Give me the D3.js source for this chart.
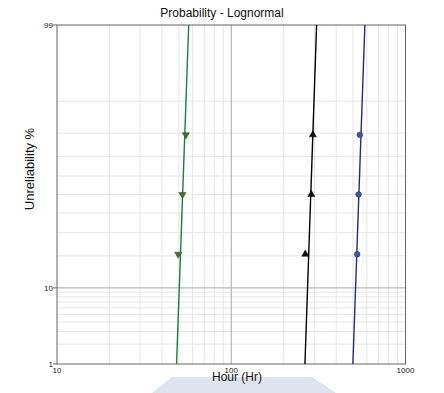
<!DOCTYPE html>
<html>
<head>
<meta charset="utf-8">
<script src="https://cdn.jsdelivr.net/npm/d3@7"></script>
<style>
  body { margin: 0; background: #fff; }
  text { font-family: "Liberation Sans", Arial, sans-serif; }
</style>
</head>
<body>
<svg id="chart"></svg>
<script>
const title = "Probability - Lognormal";
const xLabel = "Hour (Hr)";
const yLabel = "Unreliability %";

const xTicks = [10, 100, 1000];
const yTicks = [1, 10, 99];
const xMinor = [20, 30, 40, 50, 60, 70, 80, 90, 200, 300, 400, 500, 600, 700, 800, 900];
const yMinor = [2, 3, 4, 5, 6, 7, 8, 9, 20, 30, 40, 50, 60, 70, 80, 90];

// median ranks (%)
const ranks = [20.63, 50, 79.37];
const greenHours = [49.6, 52.5, 54.9];
const blackHours = [266, 288, 294];
const blueHours = [528, 538, 547];

// lognormal fits: median hours, sigma (log10)
const greenFit = { median: 52.6, sigma: 0.0150 };
const blackFit = { median: 286, sigma: 0.0144 };
const blueFit = { median: 540, sigma: 0.0148 };

const width = 444, height = 393;
const pLeft = 57, pRight = 405.5, pTop = 25, pBottom = 364;

// inverse normal cdf (Acklam)
function probit(p) {
    const a = [-3.969683028665376e+01, 2.209460984245205e+02, -2.759285104469687e+02, 1.383577518672690e+02, -3.066479806614716e+01, 2.506628277459239e+00];
    const b = [-5.447609879822406e+01, 1.615858368580409e+02, -1.556989798598866e+02, 6.680131188771972e+01, -1.328068155288572e+01];
    const c = [-7.784894002430293e-03, -3.223964580411365e-01, -2.400758277161838e+00, -2.549732539343734e+00, 4.374664141464968e+00, 2.938163982698783e+00];
    const d = [7.784695709041462e-03, 3.224671290700398e-01, 2.445134137142996e+00, 3.754408661907416e+00];
    const pl = 0.02425;
    let q, r;
    if (p < pl) {
        q = Math.sqrt(-2 * Math.log(p));
        return (((((c[0]*q+c[1])*q+c[2])*q+c[3])*q+c[4])*q+c[5]) / ((((d[0]*q+d[1])*q+d[2])*q+d[3])*q+1);
    } else if (p <= 1 - pl) {
        q = p - 0.5; r = q * q;
        return (((((a[0]*r+a[1])*r+a[2])*r+a[3])*r+a[4])*r+a[5])*q / (((((b[0]*r+b[1])*r+b[2])*r+b[3])*r+b[4])*r+1);
    } else {
        q = Math.sqrt(-2 * Math.log(1 - p));
        return -(((((c[0]*q+c[1])*q+c[2])*q+c[3])*q+c[4])*q+c[5]) / ((((d[0]*q+d[1])*q+d[2])*q+d[3])*q+1);
    }
}

const svg = d3.select("#chart").attr("width", width).attr("height", height);

const x = d3.scaleLog().domain([10, 1000]).range([pLeft, pRight]);
const zScale = d3.scaleLinear().domain([probit(0.01), probit(0.99)]).range([pBottom, pTop]);
const y = pct => zScale(probit(pct / 100));

// watermark shape at the bottom
svg.append("path")
   .attr("d", "M172,377 L312,377 L336,393 L152,393 Z")
   .attr("fill", "#dfe3ee");

// minor grid
svg.append("g").selectAll("line").data(xMinor).enter().append("line")
   .attr("x1", d => x(d)).attr("x2", d => x(d))
   .attr("y1", pTop).attr("y2", pBottom)
   .attr("stroke", "#e6e6e6");
svg.append("g").selectAll("line").data(yMinor).enter().append("line")
   .attr("x1", pLeft).attr("x2", pRight)
   .attr("y1", d => y(d)).attr("y2", d => y(d))
   .attr("stroke", "#e6e6e6");

// major grid
svg.append("line").attr("x1", x(100)).attr("x2", x(100)).attr("y1", pTop).attr("y2", pBottom).attr("stroke", "#a8a8a8");
svg.append("line").attr("x1", pLeft).attr("x2", pRight).attr("y1", y(10)).attr("y2", y(10)).attr("stroke", "#a8a8a8");

// border
svg.append("rect").attr("x", pLeft).attr("y", pTop)
   .attr("width", pRight - pLeft).attr("height", pBottom - pTop)
   .attr("fill", "none").attr("stroke", "#666");

// axes ticks + labels
const yAxis = svg.append("g");
yTicks.forEach(t => {
    yAxis.append("line").attr("x1", pLeft - 4).attr("x2", pLeft).attr("y1", y(t)).attr("y2", y(t)).attr("stroke", "#666");
    yAxis.append("text").attr("x", pLeft - 4).attr("y", y(t) + 3)
        .attr("text-anchor", "end").attr("font-size", 8).attr("fill", "#222").text(t);
});
const xAxis = svg.append("g");
xTicks.forEach(t => {
    xAxis.append("text").attr("x", x(t)).attr("y", pBottom + 9)
        .attr("text-anchor", "middle").attr("font-size", 8).attr("fill", "#222").text(t);
});

svg.append("text").attr("x", 222).attr("y", 17).attr("text-anchor", "middle")
   .attr("font-size", 12).attr("fill", "#111").text(title);
svg.append("text").attr("x", 237).attr("y", 381).attr("text-anchor", "middle")
   .attr("font-size", 12).attr("fill", "#111").text(xLabel);
svg.append("text").attr("transform", "translate(34,169) rotate(-90)").attr("text-anchor", "middle")
   .attr("font-size", 13).attr("fill", "#111").text(yLabel);

// fit lines
svg.append("clipPath").attr("id", "clip")
   .append("rect").attr("x", pLeft).attr("y", pTop).attr("width", pRight - pLeft).attr("height", pBottom - pTop);

const series = [
    { hours: greenHours, fit: greenFit, line: "#1a8040", fill: "#4d6b2e", stroke: "#2d4a1a", shape: "down" },
    { hours: blackHours, fit: blackFit, line: "#000", fill: "#111", stroke: "#000", shape: "up" },
    { hours: blueHours, fit: blueFit, line: "#2a2a80", fill: "#3a5aa8", stroke: "#23306a", shape: "circle" }
];

const lineGen = d3.line().x(d => x(d.h)).y(d => zScale(d.z));
const plot = svg.append("g").attr("clip-path", "url(#clip)");

series.forEach(s => {
    const pts = [probit(0.01), probit(0.99)].map(z => ({ z: z, h: s.fit.median * Math.pow(10, z * s.fit.sigma) }));
    plot.append("path").datum(pts).attr("d", lineGen)
        .attr("fill", "none").attr("stroke", s.line).attr("stroke-width", 1.4);
});

const tri = d3.symbol().type(d3.symbolTriangle).size(22);
series.forEach(s => {
    const g = svg.append("g");
    s.hours.forEach((h, i) => {
        if (s.shape === "circle") {
            g.append("circle").attr("cx", x(h)).attr("cy", y(ranks[i])).attr("r", 2.8)
             .attr("fill", s.fill).attr("stroke", s.stroke).attr("stroke-width", 0.6);
        } else {
            g.append("path").attr("d", tri)
             .attr("transform", `translate(${x(h)},${y(ranks[i])}) rotate(${s.shape === "down" ? 180 : 0})`)
             .attr("fill", s.fill).attr("stroke", s.stroke).attr("stroke-width", 0.5);
        }
    });
});
</script>
</body>
</html>
